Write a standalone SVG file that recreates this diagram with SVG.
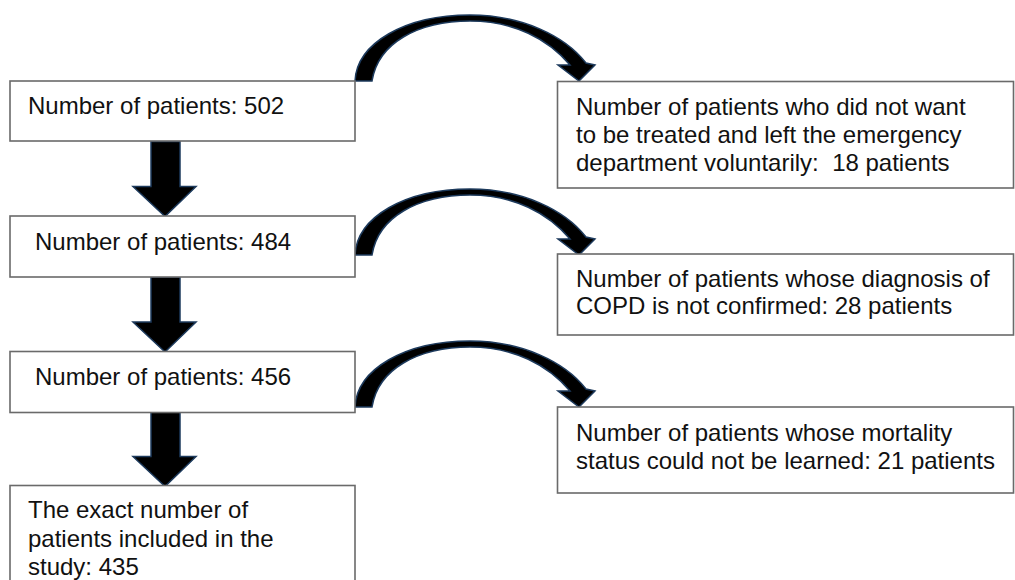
<svg xmlns="http://www.w3.org/2000/svg" width="1015" height="580" viewBox="0 0 1015 580">
<style>
.box{fill:#fff;stroke:#6a6a6a;stroke-width:1.6}
.t{font-family:"Liberation Sans",Arial,sans-serif;font-size:24px;fill:#111}
.arr{fill:#000;stroke:#1d3a5c;stroke-width:1.5;stroke-linejoin:miter}
</style>
<defs>
<path id="curve" d="M355,0 C357,-38 405,-66 470,-66 C522,-66 565,-45 586,-18 L595,-16 L579,0 L558,-16 L570,-16 C548,-42 514,-60 470,-60 C418,-60 378,-38 372,0 Z"/>
<path id="down" d="M151,0 L180,0 L180,45 L196,45 L165,75 L133,45 L151,45 Z"/>
</defs>
<rect width="1015" height="580" fill="#fff"/>
<g id="connectors">
<use href="#curve" class="arr" transform="translate(0,81)"/>
<use href="#curve" class="arr" transform="translate(0,255)"/>
<use href="#curve" class="arr" transform="translate(0,407)"/>
<use href="#down" class="arr" transform="translate(0,141.5)"/>
<use href="#down" class="arr" transform="translate(0,277)"/>
<use href="#down" class="arr" transform="translate(0,411.5)"/>
</g>
<g id="n502">
<rect class="box" x="10" y="81" width="345" height="60"/>
<text class="t" x="28" y="114">Number of patients: 502</text>
</g>
<g id="n484">
<rect class="box" x="10" y="216" width="345" height="61"/>
<text class="t" x="35" y="250">Number of patients: 484</text>
</g>
<g id="n456">
<rect class="box" x="10" y="351.5" width="345" height="61"/>
<text class="t" x="35" y="385">Number of patients: 456</text>
</g>
<g id="n435">
<rect class="box" x="10" y="485.5" width="345" height="110"/>
<text class="t" x="28" y="518">The exact number of</text>
<text class="t" x="28" y="547">patients included in the</text>
<text class="t" x="28" y="575">study: 435</text>
</g>
<g id="x18">
<rect class="box" x="557.5" y="81.5" width="456" height="106.5"/>
<text class="t" x="576" y="115">Number of patients who did not want</text>
<text class="t" x="576" y="143">to be treated and left the emergency</text>
<text class="t" x="576" y="171">department voluntarily: &#160;18 patients</text>
</g>
<g id="x28">
<rect class="box" x="557.5" y="254" width="456" height="81"/>
<text class="t" x="576" y="287">Number of patients whose diagnosis of</text>
<text class="t" x="576" y="314">COPD is not confirmed: 28 patients</text>
</g>
<g id="x21">
<rect class="box" x="557.5" y="407" width="456" height="86"/>
<text class="t" x="576" y="441">Number of patients whose mortality</text>
<text class="t" x="576" y="469">status could not be learned: 21 patients</text>
</g>
</svg>
